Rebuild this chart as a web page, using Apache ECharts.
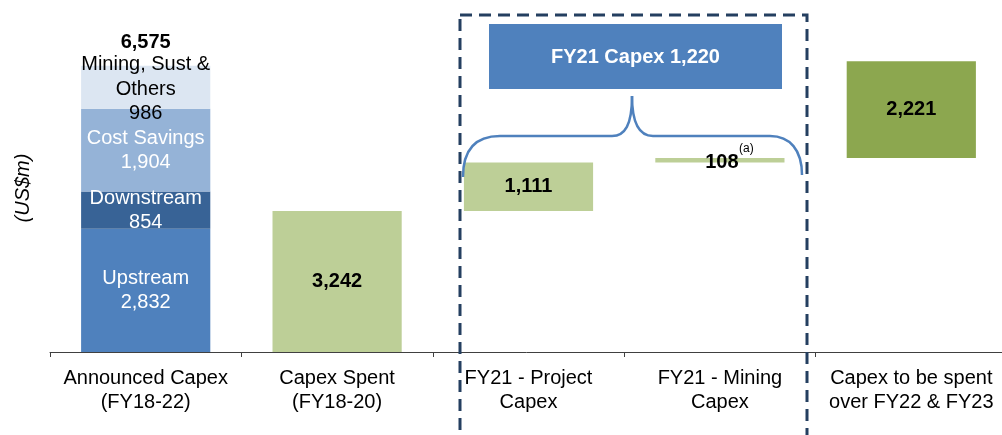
<!DOCTYPE html>
<html>
<head>
<meta charset="utf-8">
<script src="https://cdn.jsdelivr.net/npm/echarts@6/dist/echarts.min.js"></script>
<style>
  html, body { margin: 0; padding: 0; background: #fff; }
  #chart { width: 1002px; height: 435px; }
</style>
</head>
<body>
<div id="chart"></div>
<script>
// categories along the x axis
const categories = [
  'Announced Capex\n(FY18-22)',
  'Capex Spent\n(FY18-20)',
  'FY21 - Project\nCapex',
  'FY21 - Mining\nCapex',
  'Capex to be spent\nover FY22 & FY23'
];

// breakdown of the announced capex (first bar)
const announcedParts = ['Upstream', 'Downstream', 'Cost Savings', 'Mining, Sust &\nOthers'];
const announcedValues = [2832, 854, 1904, 986];
const announcedTotal = 6575;

// waterfall steps after the first bar
const spent = 3242;
const projectCapex = 1111;
const miningCapex = 108;
const toBeSpent = 2221;
const fy21Total = 1220;

const fmt = v => v.toLocaleString('en-US');
const FONT = 'Arial, "Liberation Sans", sans-serif';

// invisible base so each step floats on the previous one
const base = [0, 0, spent, spent + projectCapex, spent + projectCapex + miningCapex];

const partColors = ['#4F81BD', '#386396', '#95B3D7', '#DCE6F2'];

const partSeries = announcedParts.map((name, i) => ({
  name: name,
  type: 'bar',
  stack: 'w',
  barWidth: '67.5%',
  itemStyle: { color: partColors[i] },
  data: [announcedValues[i], '-', '-', '-', '-'],
  label: i < 3 ? {
    show: true,
    position: 'inside',
    color: '#fff',
    fontFamily: FONT,
    fontSize: 20,
    lineHeight: 24,
    formatter: p => name + '\n' + fmt(p.value)
  } : {
    show: true,
    position: 'inside',
    offset: [0, -8],
    formatter: p => '{t|' + fmt(announcedTotal) + '}\n' +
      name.split('\n').map(s => '{n|' + s + '}').join('\n') + '\n{n|' + fmt(p.value) + '}',
    rich: {
      t: { fontFamily: FONT, fontSize: 20, fontWeight: 'bold', color: '#000', lineHeight: 20 },
      n: { fontFamily: FONT, fontSize: 20, color: '#000', lineHeight: 24.5 }
    }
  }
}));

const boldLabel = {
  show: true,
  position: 'inside',
  color: '#000',
  fontFamily: FONT,
  fontSize: 20,
  fontWeight: 'bold',
  formatter: p => fmt(p.value)
};

// curly brace over the two FY21 bars
const braceStyle = { fill: 'none', stroke: '#4F81BD', lineWidth: 2.5 };
const brace = [
  { type: 'bezierCurve', shape: { x1: 463, y1: 177, cpx1: 463, cpy1: 150, cpx2: 475, cpy2: 136, x2: 500, y2: 136 } },
  { type: 'line', shape: { x1: 500, y1: 136, x2: 612, y2: 136 } },
  { type: 'bezierCurve', shape: { x1: 612, y1: 136, cpx1: 625, cpy1: 136, cpx2: 632, cpy2: 125, x2: 632, y2: 96 } },
  { type: 'bezierCurve', shape: { x1: 632, y1: 96, cpx1: 632, cpy1: 125, cpx2: 640, cpy2: 136, x2: 653, y2: 136 } },
  { type: 'line', shape: { x1: 653, y1: 136, x2: 770, y2: 136 } },
  { type: 'bezierCurve', shape: { x1: 770, y1: 136, cpx1: 790, cpy1: 136, cpx2: 802, cpy2: 150, x2: 802, y2: 175 } }
].map(el => Object.assign(el, { style: braceStyle, z: 10 }));

const chart = echarts.init(document.getElementById('chart'));

chart.setOption({
  animation: false,
  grid: { left: 50, top: 0, width: 957, bottom: 83, containLabel: false, outerBoundsMode: 'none' },
  xAxis: {
    type: 'category',
    data: categories,
    axisLine: { lineStyle: { color: '#404040', width: 1 } },
    axisTick: { show: true, length: 5, lineStyle: { color: '#404040' } },
    axisLabel: {
      color: '#000',
      fontFamily: FONT,
      fontSize: 20,
      lineHeight: 24,
      margin: 14,
      interval: 0
    }
  },
  yAxis: {
    type: 'value',
    min: 0,
    max: 8090,
    show: false
  },
  series: [
    {
      name: 'base',
      type: 'bar',
      stack: 'w',
      barWidth: '67.5%',
      itemStyle: { color: 'transparent' },
      emphasis: { disabled: true },
      data: base
    },
    ...partSeries,
    {
      name: 'Spent / FY21',
      type: 'bar',
      stack: 'w',
      itemStyle: { color: '#BDCF97' },
      data: [
        '-',
        { value: spent, label: boldLabel },
        { value: projectCapex, label: boldLabel },
        { value: miningCapex, label: Object.assign({}, boldLabel, { offset: [2, 2] }) },
        '-'
      ]
    },
    {
      name: 'To be spent',
      type: 'bar',
      stack: 'w',
      itemStyle: { color: '#8CA74F' },
      label: boldLabel,
      data: ['-', '-', '-', '-', toBeSpent]
    }
  ],
  graphic: [
    {
      type: 'text',
      x: 23,
      y: 188,
      rotation: Math.PI / 2,
      style: {
        text: '(US$m)',
        font: 'italic 20px ' + FONT,
        fill: '#000',
        align: 'center',
        verticalAlign: 'middle'
      }
    },
    {
      type: 'text',
      x: 739,
      y: 149,
      style: { text: '(a)', font: '12px ' + FONT, fill: '#000', align: 'left', verticalAlign: 'middle' },
      z: 11
    },
    {
      type: 'rect',
      shape: { x: 460, y: 15, width: 347, height: 440 },
      style: { fill: 'none', stroke: '#243F60', lineWidth: 3, lineDash: [12, 7] },
      z: 10
    },
    {
      type: 'rect',
      shape: { x: 489, y: 24, width: 293, height: 65 },
      style: { fill: '#4F81BD' },
      z: 10
    },
    {
      type: 'text',
      x: 635.5,
      y: 57,
      style: {
        text: 'FY21 Capex ' + fmt(fy21Total),
        font: 'bold 20px ' + FONT,
        fill: '#fff',
        align: 'center',
        verticalAlign: 'middle'
      },
      z: 11
    },
    ...brace
  ]
});
</script>
</body>
</html>
